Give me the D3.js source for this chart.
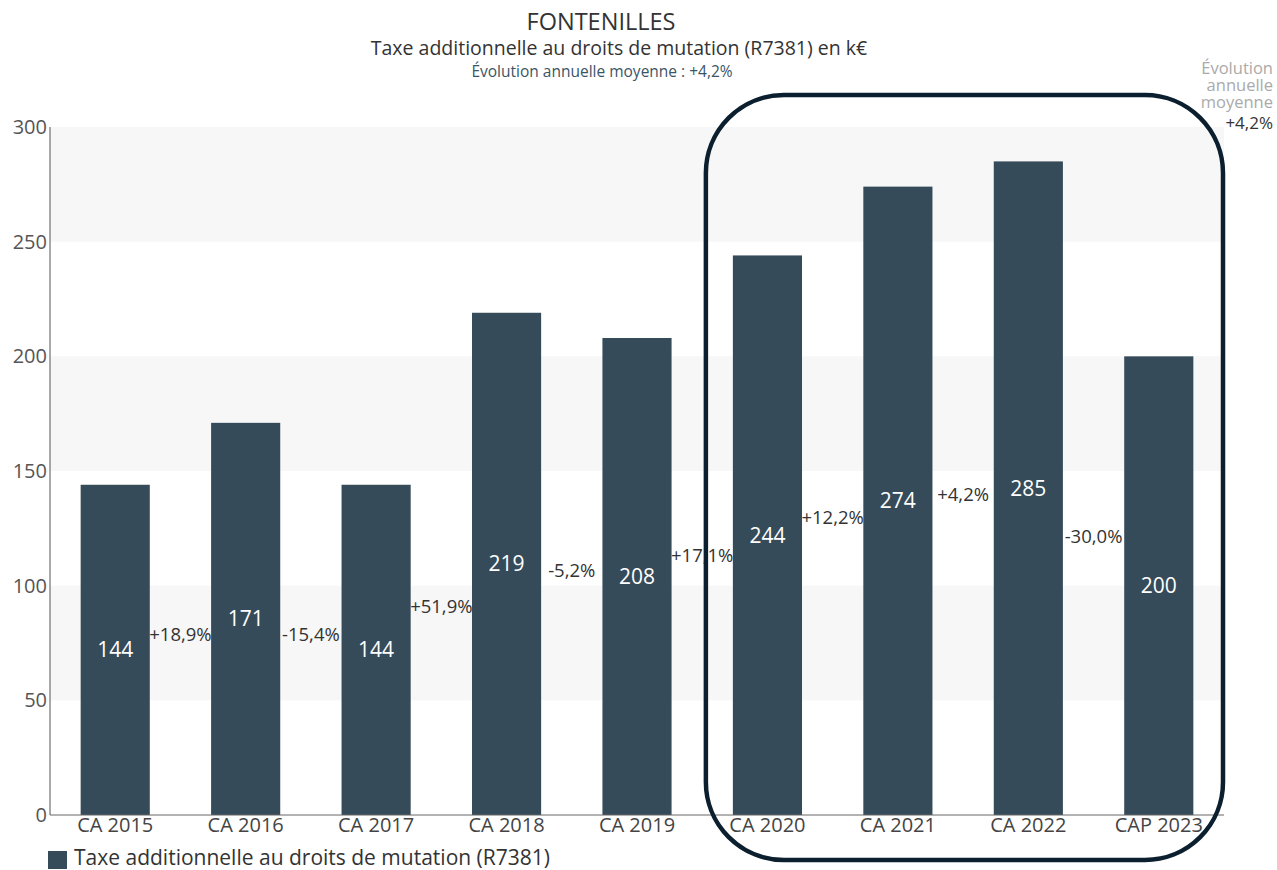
<!DOCTYPE html>
<html>
<head>
<meta charset="utf-8">
<script src="https://cdn.jsdelivr.net/npm/d3@7"></script>
<style>
  body { margin: 0; background: #fff; }
  svg { display: block; font-family: "Open Sans", sans-serif; }
</style>
</head>
<body>
<div id="vizContainer"></div>
<script>
let w = 1277;
let h = 870;

// data
let categories = ["CA 2015", "CA 2016", "CA 2017", "CA 2018", "CA 2019", "CA 2020", "CA 2021", "CA 2022", "CAP 2023"];
let values = [144, 171, 144, 219, 208, 244, 274, 285, 200];
let changeLabels = ["+18,9%", "-15,4%", "+51,9%", "-5,2%", "+17,1%", "+12,2%", "+4,2%", "-30,0%"];
let yTicks = [0, 50, 100, 150, 200, 250, 300];
let seriesName = "Taxe additionnelle au droits de mutation (R7381)";

let plotLeft = 50, plotRight = 1224, plotTop = 127, plotBottom = 815;
let barColor = "#364b59";

let viz = d3.select("#vizContainer").append("svg")
	.attr("width", w)
	.attr("height", h);

let xScale = d3.scaleBand().domain(categories).range([plotLeft, plotRight])
	.paddingInner(0.47).paddingOuter(0.235);
let yScale = d3.scaleLinear().domain([0, 300]).range([plotBottom, plotTop]);

// alternating background bands
let bands = viz.append("g");
for (let i = 0; i < yTicks.length - 1; i++) {
	if (i % 2 == 1) {
		bands.append("rect")
			.attr("x", plotLeft)
			.attr("y", yScale(yTicks[i + 1]))
			.attr("width", plotRight - plotLeft)
			.attr("height", yScale(yTicks[i]) - yScale(yTicks[i + 1]))
			.attr("fill", "#f7f7f7");
	}
}

// bars
viz.append("g").selectAll("rect").data(values).enter().append("rect")
	.attr("x", (d, i) => xScale(categories[i]))
	.attr("y", d => yScale(d))
	.attr("width", xScale.bandwidth())
	.attr("height", d => yScale(0) - yScale(d))
	.attr("fill", barColor);

// value labels
viz.append("g").selectAll("text").data(values).enter().append("text")
	.attr("x", (d, i) => xScale(categories[i]) + xScale.bandwidth() / 2)
	.attr("y", d => yScale(d / 2))
	.attr("dy", "0.35em")
	.attr("text-anchor", "middle")
	.attr("font-size", 21)
	.attr("fill", "#fff")
	.text(d => d);

// evolution labels between bars
let step = xScale.step();
viz.append("g").selectAll("text").data(changeLabels).enter().append("text")
	.attr("x", (d, i) => xScale(categories[i]) + xScale.bandwidth() + (step - xScale.bandwidth()) / 2)
	.attr("y", (d, i) => (yScale(values[i] / 2) + yScale(values[i + 1] / 2)) / 2)
	.attr("dy", "0.35em")
	.attr("text-anchor", "middle")
	.attr("font-size", 18.5)
	.attr("fill", "#333")
	.text(d => d);

// axes
let yAxis = viz.append("g")
	.attr("transform", "translate(" + plotLeft + ",0)")
	.call(d3.axisLeft(yScale).tickValues(yTicks).tickSize(0).tickPadding(3));
yAxis.select(".domain").attr("stroke", "#555").attr("d", "M0," + plotTop + "V" + plotBottom);
yAxis.selectAll("text").attr("font-size", 20).attr("fill", "#555").attr("font-family", "Open Sans");

let xAxis = viz.append("g")
	.attr("transform", "translate(0," + plotBottom + ")")
	.call(d3.axisBottom(xScale).tickSize(0).tickPadding(3));
xAxis.select(".domain").attr("stroke", "#666").attr("d", "M" + plotLeft + ",0H" + plotRight);
xAxis.selectAll("text").attr("font-size", 20).attr("fill", "#444").attr("font-family", "Open Sans");

// highlight frame around the last years
let frameX = xScale(categories[5]) - 27;
viz.append("rect")
	.attr("x", frameX)
	.attr("y", 95)
	.attr("width", plotRight - 1 - frameX)
	.attr("height", 765)
	.attr("rx", 78)
	.attr("ry", 78)
	.attr("fill", "none")
	.attr("stroke", "#0b1f2e")
	.attr("stroke-width", 4.5);

// titles
viz.append("text").attr("x", 601).attr("y", 30).attr("text-anchor", "middle")
	.attr("font-size", 23.5).attr("fill", "#333").text("FONTENILLES");
viz.append("text").attr("x", 619).attr("y", 55).attr("text-anchor", "middle")
	.attr("font-size", 19.5).attr("fill", "#333").text("Taxe additionnelle au droits de mutation (R7381) en k€");
viz.append("text").attr("x", 602).attr("y", 77).attr("text-anchor", "middle")
	.attr("font-size", 15.5).attr("fill", "#3a5566").text("Évolution annuelle moyenne : +4,2%");

// side note
let note = ["Évolution", "annuelle", "moyenne"];
viz.append("g").selectAll("text").data(note).enter().append("text")
	.attr("x", 1273)
	.attr("y", (d, i) => 74 + i * 17)
	.attr("text-anchor", "end")
	.attr("font-size", 16.5)
	.attr("fill", "#aaa")
	.text(d => d);
viz.append("text").attr("x", 1273).attr("y", 129).attr("text-anchor", "end")
	.attr("font-size", 17).attr("fill", "#333").text("+4,2%");

// legend
viz.append("rect").attr("x", 48).attr("y", 851).attr("width", 19).attr("height", 18).attr("fill", barColor);
viz.append("text").attr("x", 74).attr("y", 865).attr("font-size", 21).attr("fill", "#333").text(seriesName);
</script>
</body>
</html>
